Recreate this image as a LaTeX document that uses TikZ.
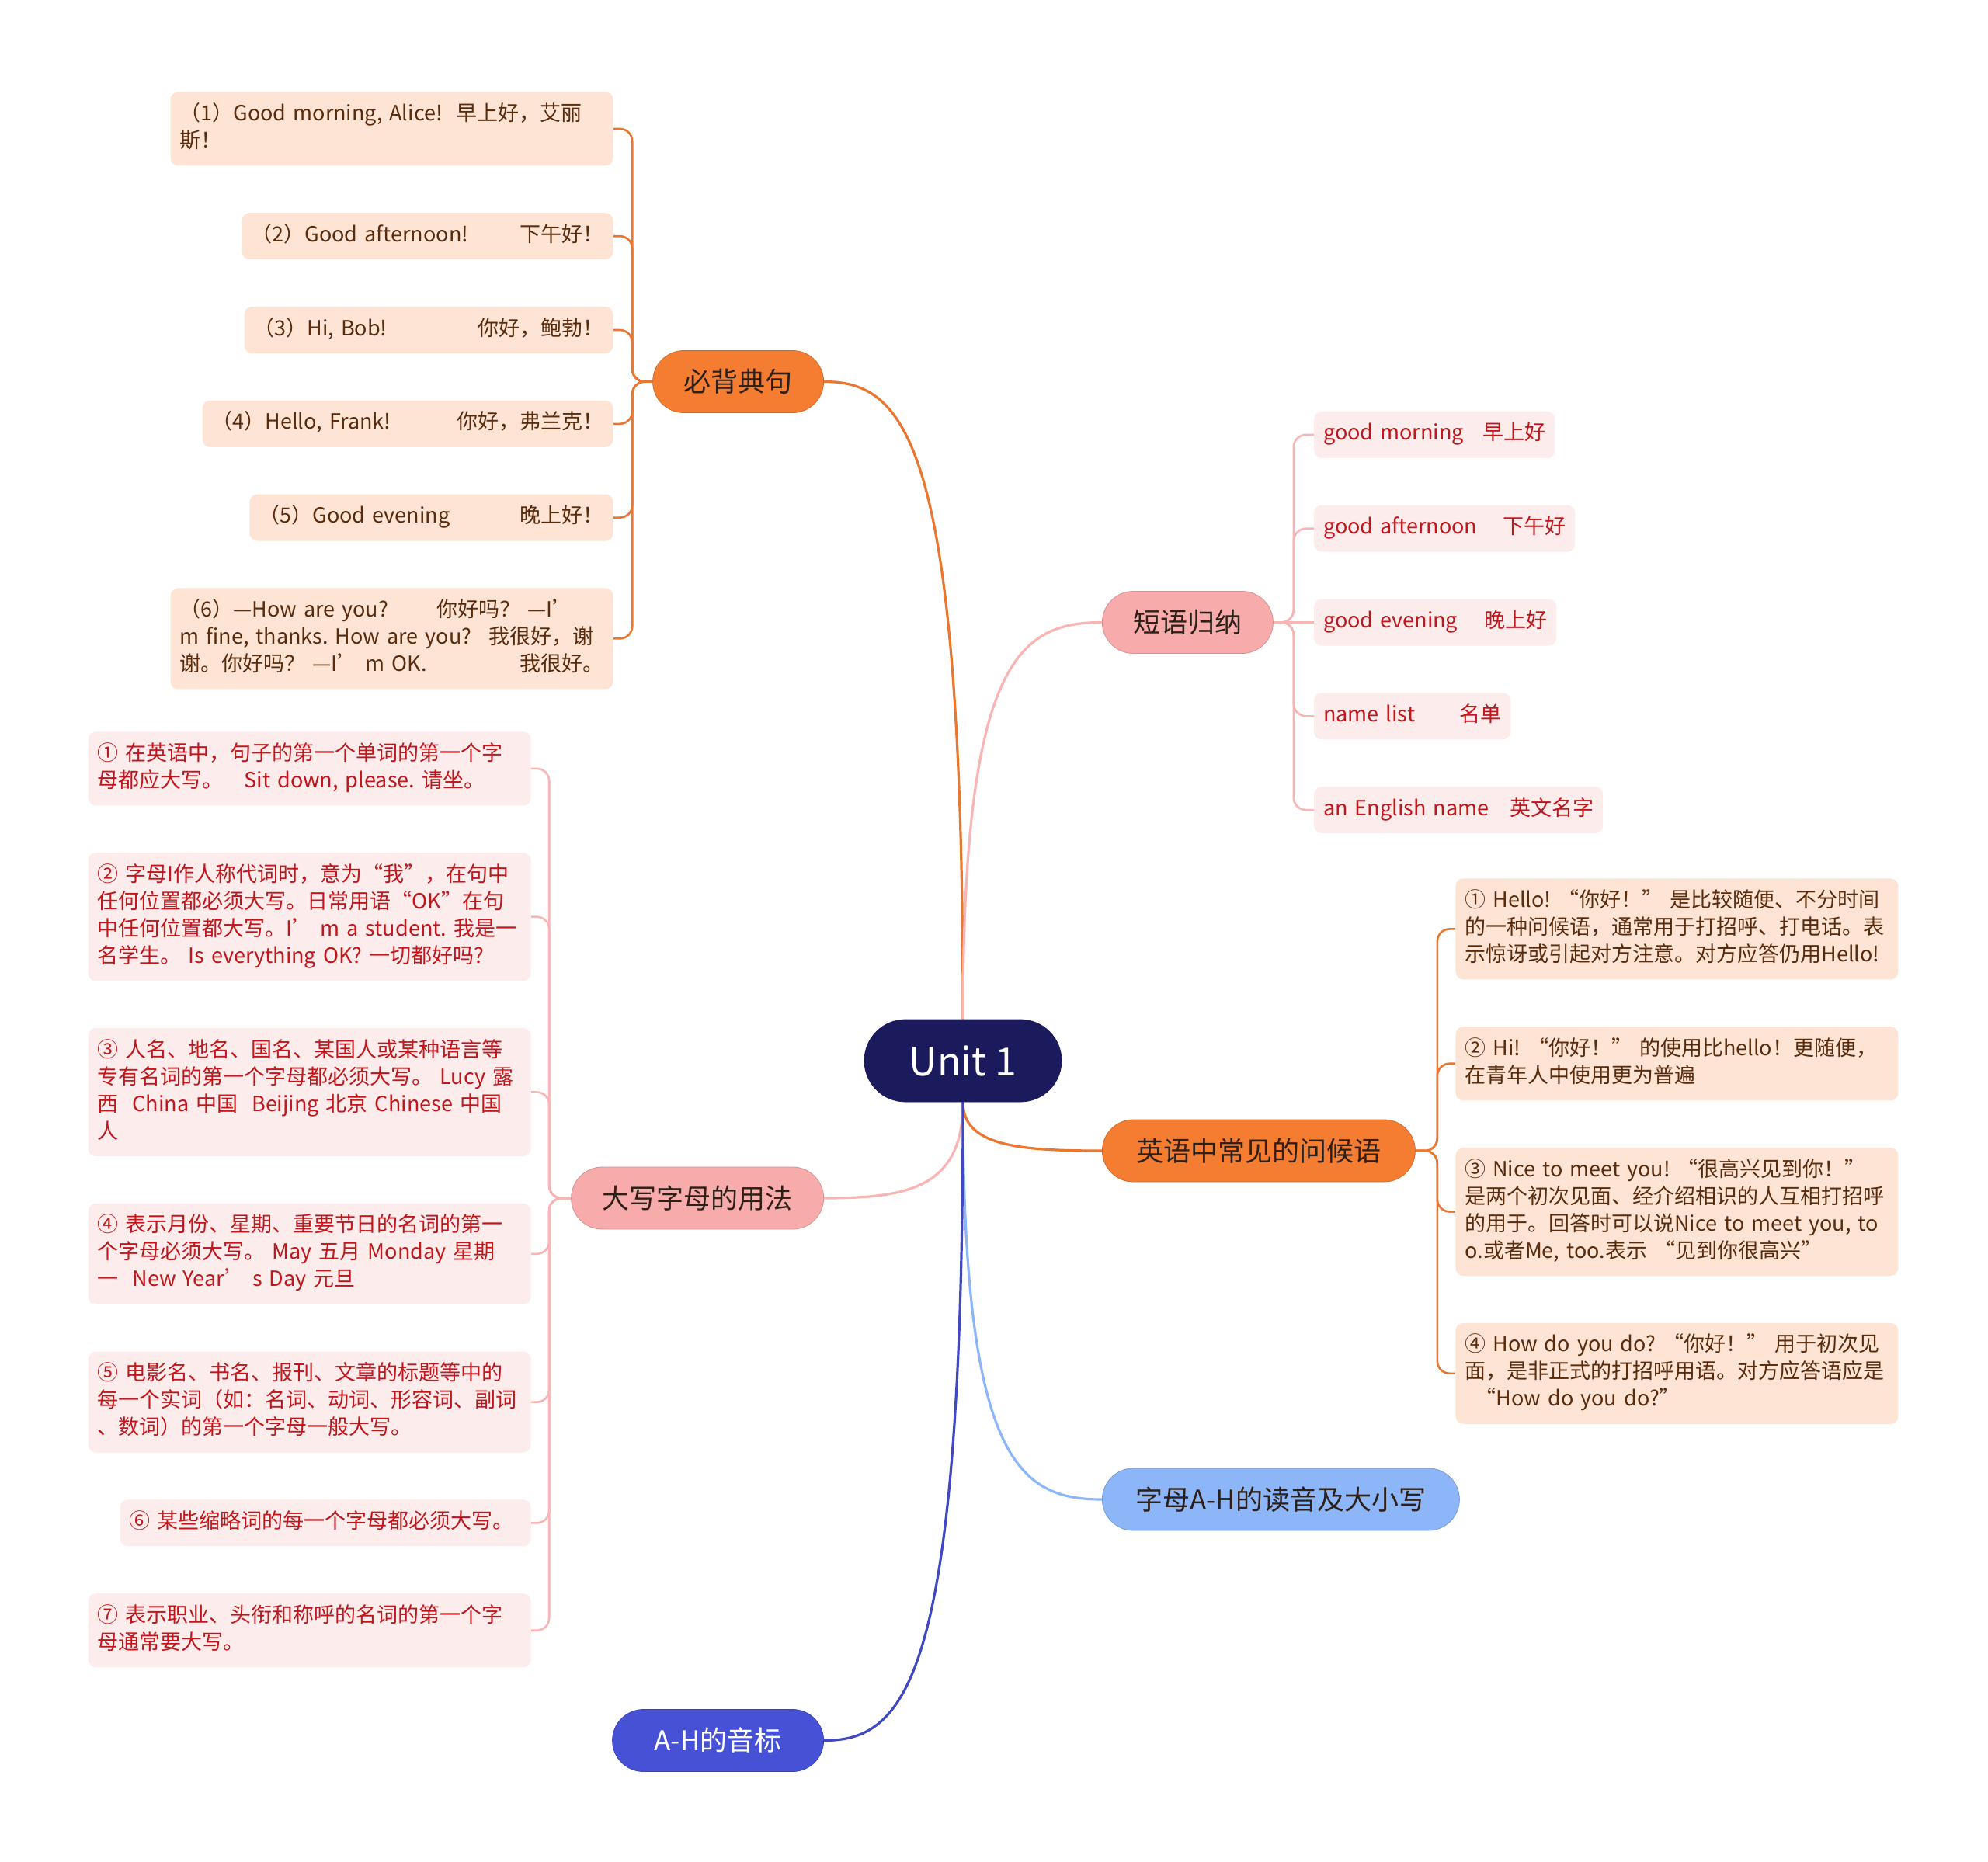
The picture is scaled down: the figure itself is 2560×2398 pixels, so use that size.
\documentclass[tikz,border=0pt]{standalone}
\usepackage{fontspec}
\setmainfont{Noto Sans CJK SC}
\usetikzlibrary{positioning, calc, backgrounds}
\definecolor{Cnavy}{HTML}{1B1A5C}
\definecolor{Corg}{HTML}{F57D32}
\definecolor{Cpink}{HTML}{F8ABAB}
\definecolor{Csky}{HTML}{8DB6F9}
\definecolor{Cblue}{HTML}{4751D6}
\definecolor{Cpeach}{HTML}{FDE4D4}
\definecolor{Cblush}{HTML}{FDECEC}
\definecolor{Cbrown}{HTML}{5A2C0E}
\definecolor{Cred}{HTML}{C0161C}
\definecolor{Cdark}{HTML}{2D2019}
\colorlet{Lorg}{Corg!95!black}
\colorlet{Lpink}{Cpink!90!white}
\colorlet{Lsky}{Csky}
\colorlet{Lblue}{Cblue!90!black}
\newcommand{\leaffont}{\fontsize{13.5}{17.5}\selectfont}
\tikzset{
  hub/.style={fill=Cnavy, draw=Cnavy, text=white, rounded corners=26.5pt,
    minimum width=127pt, minimum height=53pt, font=\fontsize{25}{30}\selectfont},
  topic/.style={fill=#1, draw=#1!85!black, line width=0.4pt, text=Cdark,
    rounded corners=20pt, minimum height=40pt, inner xsep=10pt,
    font=\fontsize{17.5}{21}\selectfont},
  sentbox/.style={fill=Cpeach, text=Cbrown, rounded corners=5pt,
    inner xsep=6pt, inner ysep=6.25pt, align=left, text width=#1,
    font=\leaffont, execute at begin node=\strut, execute at end node=\strut},
  sentbox/.default=273pt,
  rulebox/.style={sentbox=#1, fill=Cblush, text=Cred},
  rulebox/.default=273pt,
  conn/.style={line width=1.6pt},
  twig/.style={line width=1.3pt, rounded corners=8pt},
  mmcurve/.style={to path={.. controls ($(\tikztostart)!0.9!(\tikztostart|-\tikztotarget)$)
    and ($(\tikztotarget)!0.6!(\tikztostart|-\tikztotarget)$) .. (\tikztotarget)}},
}

\begin{document}
\begin{tikzpicture}[x=0.5pt, y=-0.5pt, node distance=30pt]
\useasboundingbox (0,0) rectangle (2560,2398);

%%==========================================================================
%% CENTRE AND MAIN TOPICS
%%==========================================================================

\node[hub] (unit) at (1240,1366) {Unit 1};

\node[topic=Corg, minimum width=110pt, anchor=east] (bibei) at (1061,491.5) {必背典句};
\node[topic=Cpink, minimum width=110pt, anchor=west] (duanyu) at (1419,801.5) {短语归纳};
\node[topic=Corg, minimum width=201.5pt, anchor=west] (wenhou) at (1419,1482) {英语中常见的问候语};
\node[topic=Csky, minimum width=230pt, anchor=west] (zimu) at (1419,1931) {字母A-H的读音及大小写};
\node[topic=Cpink, minimum width=162.5pt, anchor=east] (daxie) at (1061,1543) {大写字母的用法};
\node[topic=Cblue, text=white, minimum width=136pt, anchor=east] (yinbiao) at (1061,2241.5) {A-H的音标};

%%==========================================================================
%% LEFT — 必背典句
%%==========================================================================

\node[sentbox, anchor=north east] (bb1) at (790,118)
  {（1）Good~morning,~Alice!~~早上好，艾丽\\斯！};
\node[sentbox=227pt, below=of bb1.south east, anchor=north east] (bb2)
  {（2）Good~afternoon!\nobreak\hfill 下午好！};
\node[sentbox=225.5pt, below=of bb2.south east, anchor=north east] (bb3)
  {（3）Hi,~Bob!\nobreak\hfill 你好，鲍勃！};
\node[sentbox=252.5pt, below=of bb3.south east, anchor=north east] (bb4)
  {（4）Hello,~Frank!\nobreak\hfill 你好，弗兰克！};
\node[sentbox=222pt, below=of bb4.south east, anchor=north east] (bb5)
  {（5）Good~evening\nobreak\hfill 晚上好！};
\node[sentbox, below=of bb5.south east, anchor=north east] (bb6)
  {（6）—How~are~you?\hspace{2.3em}你好吗？~—I’\\
   m~fine,~thanks.~How~are~you?\hspace{0.8em}我很好，谢\\
   谢。你好吗？~—I’~m~OK.\nobreak\hfill 我很好。};

%%==========================================================================
%% RIGHT — 短语归纳
%%==========================================================================

\node[rulebox=144pt, right=26pt of duanyu] (dy3) {good~evening\nobreak\hfill 晚上好};
\node[rulebox=156pt, above=of dy3.north west, anchor=south west] (dy2) {good~afternoon\nobreak\hfill 下午好};
\node[rulebox=143pt, above=of dy2.north west, anchor=south west] (dy1) {good~morning\nobreak\hfill 早上好};
\node[rulebox=114.5pt, below=of dy3.south west, anchor=north west] (dy4) {name~list\nobreak\hfill 名单};
\node[rulebox=174pt, below=of dy4.south west, anchor=north west] (dy5) {an~English~name\nobreak\hfill 英文名字};

%%==========================================================================
%% RIGHT — 英语中常见的问候语
%%==========================================================================

\node[sentbox, anchor=north west] (wh1) at (1874,1131)
  {①~Hello!~“你好！”~是比较随便、不分时间\\
   的一种问候语，通常用于打招呼、打电话。表\\
   示惊讶或引起对方注意。对方应答仍用Hello!};
\node[sentbox, below=of wh1.south west, anchor=north west] (wh2)
  {②~Hi!~“你好！”~的使用比hello！更随便，\\
   在青年人中使用更为普遍};
\node[sentbox, below=of wh2.south west, anchor=north west] (wh3)
  {③~Nice~to~meet~you!~“很高兴见到你！”\\
   是两个初次见面、经介绍相识的人互相打招呼\\
   的用于。回答时可以说Nice~to~meet~you,~to\\
   o.或者Me,~too.表示~“见到你很高兴”};
\node[sentbox, below=of wh3.south west, anchor=north west] (wh4)
  {④~How~do~you~do?~“你好！”~用于初次见\\
   面，是非正式的打招呼用语。对方应答语应是\\
   \hspace*{0.5em}“How~do~you~do?”};

%%==========================================================================
%% LEFT — 大写字母的用法
%%==========================================================================

\node[rulebox, anchor=north east] (dx1) at (684,942)
  {①~在英语中，句子的第一个单词的第一个字\\
   母都应大写。\quad Sit~down,~please.~请坐。};
\node[rulebox, below=of dx1.south east, anchor=north east] (dx2)
  {②~字母I作人称代词时，意为“我”，在句中\\
   任何位置都必须大写。日常用语“OK”在句\\
   中任何位置都大写。I’~m~a~student.~我是一\\
   名学生。~Is~everything~OK?~一切都好吗?};
\node[rulebox, below=of dx2.south east, anchor=north east] (dx3)
  {③~人名、地名、国名、某国人或某种语言等\\
   专有名词的第一个字母都必须大写。~Lucy~露\\
   西~~China~中国~~Beijing~北京~Chinese~中国\\
   人};
\node[rulebox, below=of dx3.south east, anchor=north east] (dx4)
  {④~表示月份、星期、重要节日的名词的第一\\
   个字母必须大写。~May~五月~Monday~星期\\
   一~~New~Year’~s~Day~元旦};
\node[rulebox, below=of dx4.south east, anchor=north east] (dx5)
  {⑤~电影名、书名、报刊、文章的标题等中的\\
   每一个实词（如：名词、动词、形容词、副词\\
   、数词）的第一个字母一般大写。};
\node[rulebox=252.5pt, below=of dx5.south east, anchor=north east] (dx6)
  {⑥~某些缩略词的每一个字母都必须大写。};
\node[rulebox, below=of dx6.south east, anchor=north east] (dx7)
  {⑦~表示职业、头衔和称呼的名词的第一个字\\
   母通常要大写。};

%%==========================================================================
%% CONNECTORS
%%==========================================================================
\begin{scope}[on background layer]
  \fill[white] (0,0) rectangle (2560,2398);

  \draw[conn, Lorg] (unit.north) to[mmcurve] (bibei.east);
  \draw[conn, Lpink] (unit.north) to[mmcurve] (duanyu.west);
  \draw[conn, Lorg] (unit.south) to[mmcurve] (wenhou.west);
  \draw[conn, Lsky] (unit.south) to[mmcurve] (zimu.west);
  \draw[conn, Lpink] (unit.south) to[mmcurve] (daxie.east);
  \draw[conn, Lblue] (unit.south) to[mmcurve] (yinbiao.east);

  \foreach \i in {1,...,6}
    \draw[twig, Lorg] (bibei.west) -- ++(-13pt,0) |- (bb\i.east);

  \foreach \i in {1,2,4,5}
    \draw[twig, Lpink] (duanyu.east) -- ++(13pt,0) |- (dy\i.west);
  \draw[twig, Lpink] (duanyu.east) -- (dy3.west);

  \foreach \i in {1,...,4}
    \draw[twig, Lorg] (wenhou.east) -- ++(14pt,0) |- (wh\i.west);

  \foreach \i in {1,...,7}
    \draw[twig, Lpink] (daxie.west) -- ++(-14pt,0) |- (dx\i.east);
\end{scope}

\end{tikzpicture}
\end{document}
